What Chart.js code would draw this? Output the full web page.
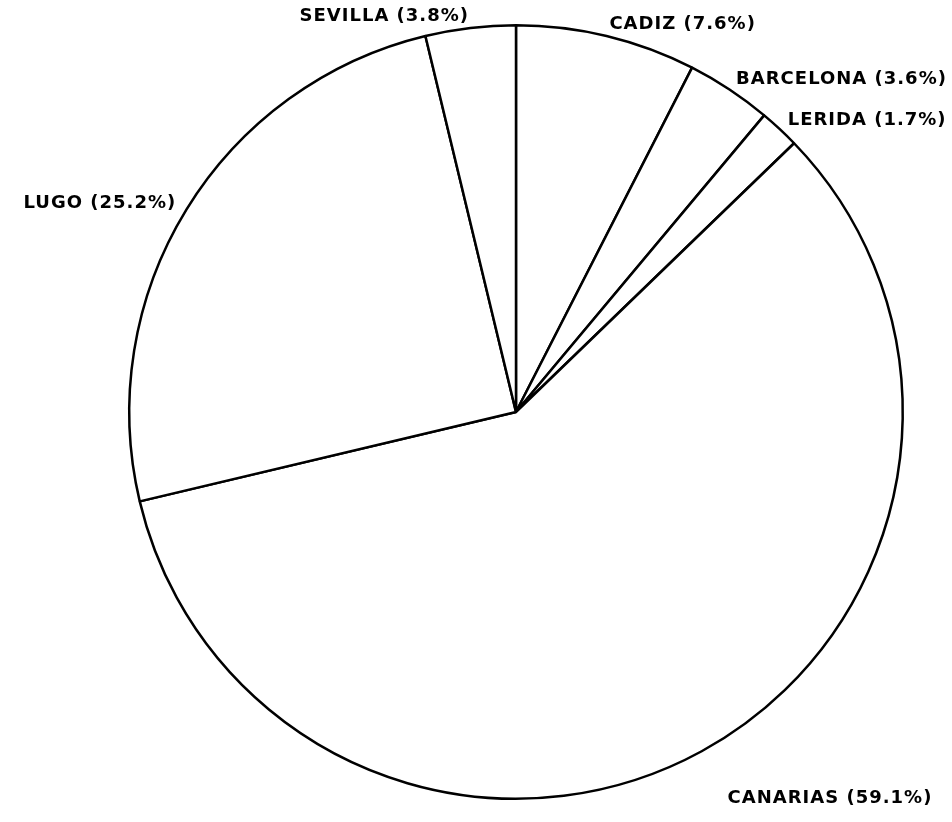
<!DOCTYPE html>
<html>
<head>
<meta charset="utf-8">
<script src="https://cdn.jsdelivr.net/npm/chart.js@4.4.1/dist/chart.umd.min.js"></script>
<style>
  html, body { margin: 0; padding: 0; background: #fff; }
  #wrap { width: 952px; height: 822px; }
</style>
</head>
<body>
<div id="wrap"><canvas id="pieChart"></canvas></div>
<script>
// Slices in drawing order, clockwise from the top
const provinces = ['CADIZ', 'BARCELONA', 'LERIDA', 'CANARIAS', 'LUGO', 'SEVILLA'];
const shares = [7.6, 3.6, 1.7, 59.1, 25.2, 3.8];
const shareLabels = ['7.6%', '3.6%', '1.7%', '59.1%', '25.2%', '3.8%'];

// Draws "NAME (x%)" outside each slice, next to its middle angle
const outsideLabels = {
    id: 'outsideLabels',
    afterDatasetsDraw(chart) {
        const ctx = chart.ctx;
        const meta = chart.getDatasetMeta(0);
        ctx.save();
        ctx.font = 'bold 18px "DejaVu Sans", sans-serif';
        ctx.letterSpacing = '1px';
        ctx.fillStyle = '#000';
        meta.data.forEach((arc, i) => {
            const mid = (arc.startAngle + arc.endAngle) / 2;
            const dx = Math.cos(mid);
            const dy = Math.sin(mid);
            const r = arc.outerRadius + (dy > 0 ? 54 : 12);
            const x = arc.x + dx * r;
            const y = arc.y + dy * r;
            if (dx > 0.1) ctx.textAlign = 'left';
            else if (dx < -0.1) ctx.textAlign = 'right';
            else ctx.textAlign = 'center';
            ctx.textBaseline = 'middle';
            ctx.fillText(provinces[i] + ' (' + shareLabels[i] + ')', x, y);
        });
        ctx.restore();
    }
};

const ctx = document.getElementById('pieChart').getContext('2d');
const pieChart = new Chart(ctx, {
    type: 'pie',
    data: {
        labels: provinces,
        datasets: [{
            data: shares,
            backgroundColor: '#fff',
            borderColor: '#000',
            borderWidth: 2.5
        }]
    },
    options: {
        responsive: true,
        maintainAspectRatio: false,
        animation: false,
        layout: {
            padding: { top: 24, bottom: 22, left: 80, right: 0 }
        },
        plugins: {
            legend: { display: false },
            tooltip: { enabled: false }
        }
    },
    plugins: [outsideLabels]
});
</script>
</body>
</html>
